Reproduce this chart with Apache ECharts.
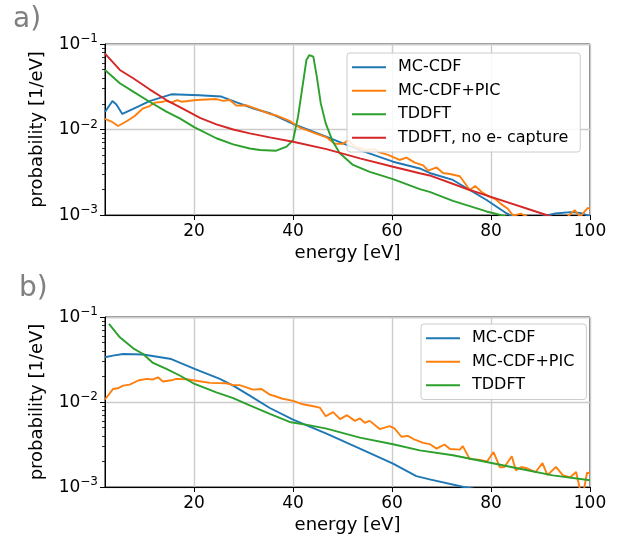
<!DOCTYPE html>
<html>
<head>
<meta charset="utf-8">
<script src="https://cdn.jsdelivr.net/npm/echarts@6/dist/echarts.min.js"></script>
<style>html,body{margin:0;padding:0;background:#fff}#c{width:618px;height:537px}</style>
</head>
<body>
<div id="c"></div>
<script>
// ---------- data (energy [eV], probability [1/eV]) ----------
const xTicks = [20, 40, 60, 80, 100];
const yMinorLogTicks = [2,3,4,5,6,7,8,9].map(k => Math.log10(k * 1e-3))
  .concat([2,3,4,5,6,7,8,9].map(k => Math.log10(k * 1e-2)));

// panel a
const mcCdfA = [[2,0.0160],[3.5,0.0215],[4.3,0.0196],[5.5,0.0152],[7.7,0.0174],[11,0.0215],[15.4,0.0258],[21,0.0252],[25.5,0.0243],[28.6,0.0208],[32,0.0176],[35.3,0.0155],[40,0.0116],[46.8,0.0082],[53.5,0.00575],[60.2,0.0042],[65.6,0.0035],[67.6,0.0031],[72.3,0.00257],[75.7,0.00196],[79.1,0.0015],[83.1,0.00105],[86,0.00085],[90,0.00095],[93,0.00104],[96,0.00108],[98,0.00106],[100,0.00097]];
const mcCdfPicA = [[2,0.0133],[3.3,0.0124],[4.65,0.0110],[6.3,0.0124],[8,0.0144],[9.7,0.0177],[11,0.0188],[12.1,0.0206],[13.4,0.0210],[14.4,0.0216],[15.4,0.0206],[16.6,0.0221],[17.5,0.0211],[20.5,0.0221],[24.5,0.0227],[25.9,0.0216],[27.2,0.0221],[28.6,0.0190],[30.6,0.0192],[32.6,0.0174],[35.3,0.0152],[36.6,0.0146],[39.3,0.0126],[41.4,0.0105],[44.1,0.0092],[46.75,0.0081],[48.4,0.0068],[50.1,0.0068],[51.1,0.0075],[52.5,0.0063],[54.8,0.00575],[56.5,0.0059],[57.5,0.0054],[59.2,0.00504],[61.5,0.0044],[62.9,0.00468],[64.6,0.0041],[66.3,0.0038],[67.3,0.0033],[69,0.0036],[70.3,0.0031],[71.7,0.00302],[73.7,0.00284],[75.7,0.00196],[76.8,0.00219],[78.1,0.00186],[79.5,0.00165],[81,0.00152],[82,0.00135],[83.4,0.00118],[84.5,0.00098],[86,0.00104],[87,0.00098],[88,0.0009],[92,0.00085],[95,0.0009],[96.9,0.00114],[98,0.00095],[99.5,0.0012],[100,0.0012]];
const tddftA = [[2,0.0497],[5,0.0347],[7.7,0.0277],[11,0.0211],[14.4,0.0162],[17.1,0.0135],[20.1,0.0106],[24.5,0.0079],[27.9,0.0067],[31.25,0.0060],[33.3,0.00575],[36.6,0.00565],[38.7,0.0063],[40,0.0075],[41,0.0141],[42,0.0347],[42.7,0.065],[43.3,0.0743],[44.1,0.071],[44.8,0.0415],[45.6,0.0202],[46.6,0.0118],[47.9,0.0075],[49.4,0.0053],[52.1,0.00385],[55.5,0.0032],[60.2,0.00263],[65.6,0.00201],[67.6,0.00186],[72.3,0.00146],[79.1,0.0011],[82.5,0.00098],[86,0.00088],[90,0.00078],[95,0.00068],[100,0.0006]];
const tddftNoCapA = [[2,0.077],[5,0.0497],[7.7,0.0397],[11,0.0295],[14.4,0.0221],[17.8,0.0174],[21.2,0.0137],[24.5,0.0115],[27.9,0.0100],[31.25,0.0090],[35.3,0.0081],[40,0.0072],[46.75,0.0059],[53.5,0.0046],[60.2,0.00367],[65.6,0.00308],[67.6,0.0029],[75.7,0.00196],[80,0.00163],[91.2,0.001],[95,0.00085],[100,0.0007]];

// panel b
const mcCdfB = [[2,0.0336],[3.6,0.0351],[5.65,0.0367],[9.7,0.0362],[15.4,0.0320],[20.1,0.0245],[25.2,0.0187],[27.9,0.0156],[31.25,0.0119],[35.3,0.0085],[40,0.0062],[46.75,0.00425],[53.5,0.00283],[60.2,0.00188],[64.9,0.00134],[67.6,0.00123],[74.5,0.00100],[80,0.00088],[90,0.0007],[100,0.00058]];
const mcCdfPicB = [[2,0.0107],[3.6,0.0142],[4.6,0.0145],[5.65,0.0156],[7,0.0160],[8.7,0.0179],[10.4,0.0187],[11.7,0.0184],[12.7,0.0195],[13.7,0.0174],[15.4,0.0180],[16.4,0.0187],[18.5,0.0185],[20.1,0.0179],[23.2,0.0168],[26.5,0.0166],[27.9,0.0158],[29.2,0.0158],[31.9,0.0140],[33.6,0.0142],[35.3,0.0122],[36.6,0.0116],[37.7,0.0110],[40,0.0103],[42,0.0094],[44.1,0.0089],[45.4,0.0086],[46.6,0.0068],[48.1,0.0076],[49.5,0.0063],[50.9,0.0070],[52.5,0.0060],[53.5,0.0064],[54.5,0.0057],[55.5,0.0060],[57.5,0.0048],[59.5,0.0052],[60.5,0.0049],[61.9,0.0039],[63.2,0.0040],[64.6,0.0036],[66.3,0.0033],[67.6,0.0032],[69,0.00283],[70.6,0.00316],[71.7,0.0028],[73.7,0.00275],[74.3,0.00303],[75.7,0.00213],[77.5,0.0021],[79.2,0.0020],[80.5,0.00258],[81.8,0.0017],[82.7,0.00172],[84.2,0.0023],[85,0.00157],[86.1,0.00172],[87.4,0.00165],[89,0.0015],[90.4,0.00191],[91.4,0.00138],[93.1,0.00172],[94.5,0.00138],[96,0.0013],[97.2,0.0015],[98,0.00092],[98.8,0.00095],[99.4,0.00147],[100,0.00145]];
const tddftB = [[2.8,0.0828],[5,0.0577],[7.7,0.0428],[9.7,0.0367],[11.7,0.0288],[14.4,0.0245],[17.1,0.0205],[20.1,0.0163],[24.5,0.0130],[27.9,0.0111],[31.25,0.0091],[35.3,0.00723],[39.3,0.00582],[43.4,0.0053],[46.75,0.00486],[53.5,0.00381],[60.2,0.00318],[65.6,0.0027],[72.3,0.00236],[79.1,0.00197],[85.8,0.00164],[92.5,0.00137],[100,0.0012]];

const namesA = ['MC-CDF', 'MC-CDF+PIC', 'TDDFT', 'TDDFT, no e- capture'];
const namesB = ['MC-CDF', 'MC-CDF+PIC', 'TDDFT'];
const colors = ['#1f77b4', '#ff7f0e', '#2ca02c', '#d62728'];

// ---------- chart ----------
const FONT = 'DejaVu Sans';
const chart = echarts.init(document.getElementById('c'), null, {renderer: 'canvas'});

const grids = [
  {left: 105, top: 44, width: 485, height: 171},
  {left: 105, top: 317, width: 485, height: 170}
];

function xAxisFor(gi) {
  return {
    type: 'value', gridIndex: gi, min: 2, max: 100,
    name: 'energy [eV]', nameLocation: 'middle', nameGap: 29,
    nameTextStyle: {fontFamily: FONT, fontSize: 18, color: '#000'},
    axisLine: {show: true, lineStyle: {color: '#000', width: 1}},
    axisTick: {show: true, customValues: xTicks, length: 5, lineStyle: {color: '#000'}},
    axisLabel: {customValues: xTicks, fontFamily: FONT, fontSize: 17, color: '#000', margin: 8},
    splitLine: {show: true, lineStyle: {color: '#cccccc', width: 1.4}}
  };
}
function yAxisFor(gi) {
  return {
    type: 'log', logBase: 10, gridIndex: gi, min: 0.001, max: 0.1,
    name: 'probability [1/eV]', nameLocation: 'middle', nameGap: 59,
    nameTextStyle: {fontFamily: FONT, fontSize: 18, color: '#000'},
    axisLine: {show: true, lineStyle: {color: '#000', width: 1}},
    axisTick: {show: true, length: 5, lineStyle: {color: '#000'}},
    axisLabel: {
      margin: 7, fontFamily: FONT, color: '#000',
      formatter: v => '{b|10}{s|\u2212' + Math.round(-Math.log10(v)) + '}',
      rich: {
        b: {fontFamily: FONT, fontSize: 17, color: '#000', padding: [0, 0, 2, 0], verticalAlign: 'bottom'},
        s: {fontFamily: FONT, fontSize: 12, color: '#000', padding: [0, 0, 10, 0], verticalAlign: 'bottom'}
      }
    },
    splitLine: {show: true, lineStyle: {color: '#cccccc', width: 1.4}}
  };
}
function minorAxisFor(gi) {
  return {
    type: 'value', gridIndex: gi, min: -3, max: -1, position: 'left',
    axisLine: {show: false},
    axisTick: {show: true, customValues: yMinorLogTicks, length: 3, lineStyle: {color: '#000', width: 0.8}},
    axisLabel: {show: false},
    splitLine: {show: false}
  };
}

function line(name, data, ci, xi, yi) {
  return {
    type: 'line', name, data, xAxisIndex: xi, yAxisIndex: yi,
    symbol: 'none', showSymbol: false, clip: true,
    lineStyle: {color: colors[ci], width: 1.9}, itemStyle: {color: colors[ci]},
    z: 3
  };
}

function legendFor(names, left, top) {
  return {
    data: names, orient: 'vertical', left, top,
    icon: 'rect', itemWidth: 34, itemHeight: 2, itemGap: 7,
    padding: [6, 12, 6, 5],
    backgroundColor: 'rgba(255,255,255,0.85)', borderColor: '#cccccc', borderWidth: 1, borderRadius: 3,
    textStyle: {fontFamily: FONT, fontSize: 16, color: '#000', lineHeight: 16.5, padding: [0, 0, 0, 7]},
    selectedMode: false, z: 10
  };
}

chart.setOption({
  animation: false,
  color: colors,
  grid: grids.map(g => Object.assign({show: true, borderColor: '#000', borderWidth: 1, backgroundColor: 'transparent'}, g)),
  xAxis: [xAxisFor(0), xAxisFor(1)],
  yAxis: [yAxisFor(0), minorAxisFor(0), yAxisFor(1), minorAxisFor(1)],
  legend: [legendFor(namesA, 347, 53), legendFor(namesB, 421, 324)],
  graphic: [
    {type: 'text', left: 13, top: 6, style: {text: 'a)', fontFamily: FONT, fontSize: 28, fill: '#808080'}},
    {type: 'text', left: 19, top: 275, style: {text: 'b)', fontFamily: FONT, fontSize: 28, fill: '#808080'}}
  ],
  series: [
    line(namesA[0], mcCdfA, 0, 0, 0),
    line(namesA[1], mcCdfPicA, 1, 0, 0),
    line(namesA[2], tddftA, 2, 0, 0),
    line(namesA[3], tddftNoCapA, 3, 0, 0),
    line(namesB[0], mcCdfB, 0, 1, 2),
    line(namesB[1], mcCdfPicB, 1, 1, 2),
    line(namesB[2], tddftB, 2, 1, 2)
  ]
});
</script>
</body>
</html>
